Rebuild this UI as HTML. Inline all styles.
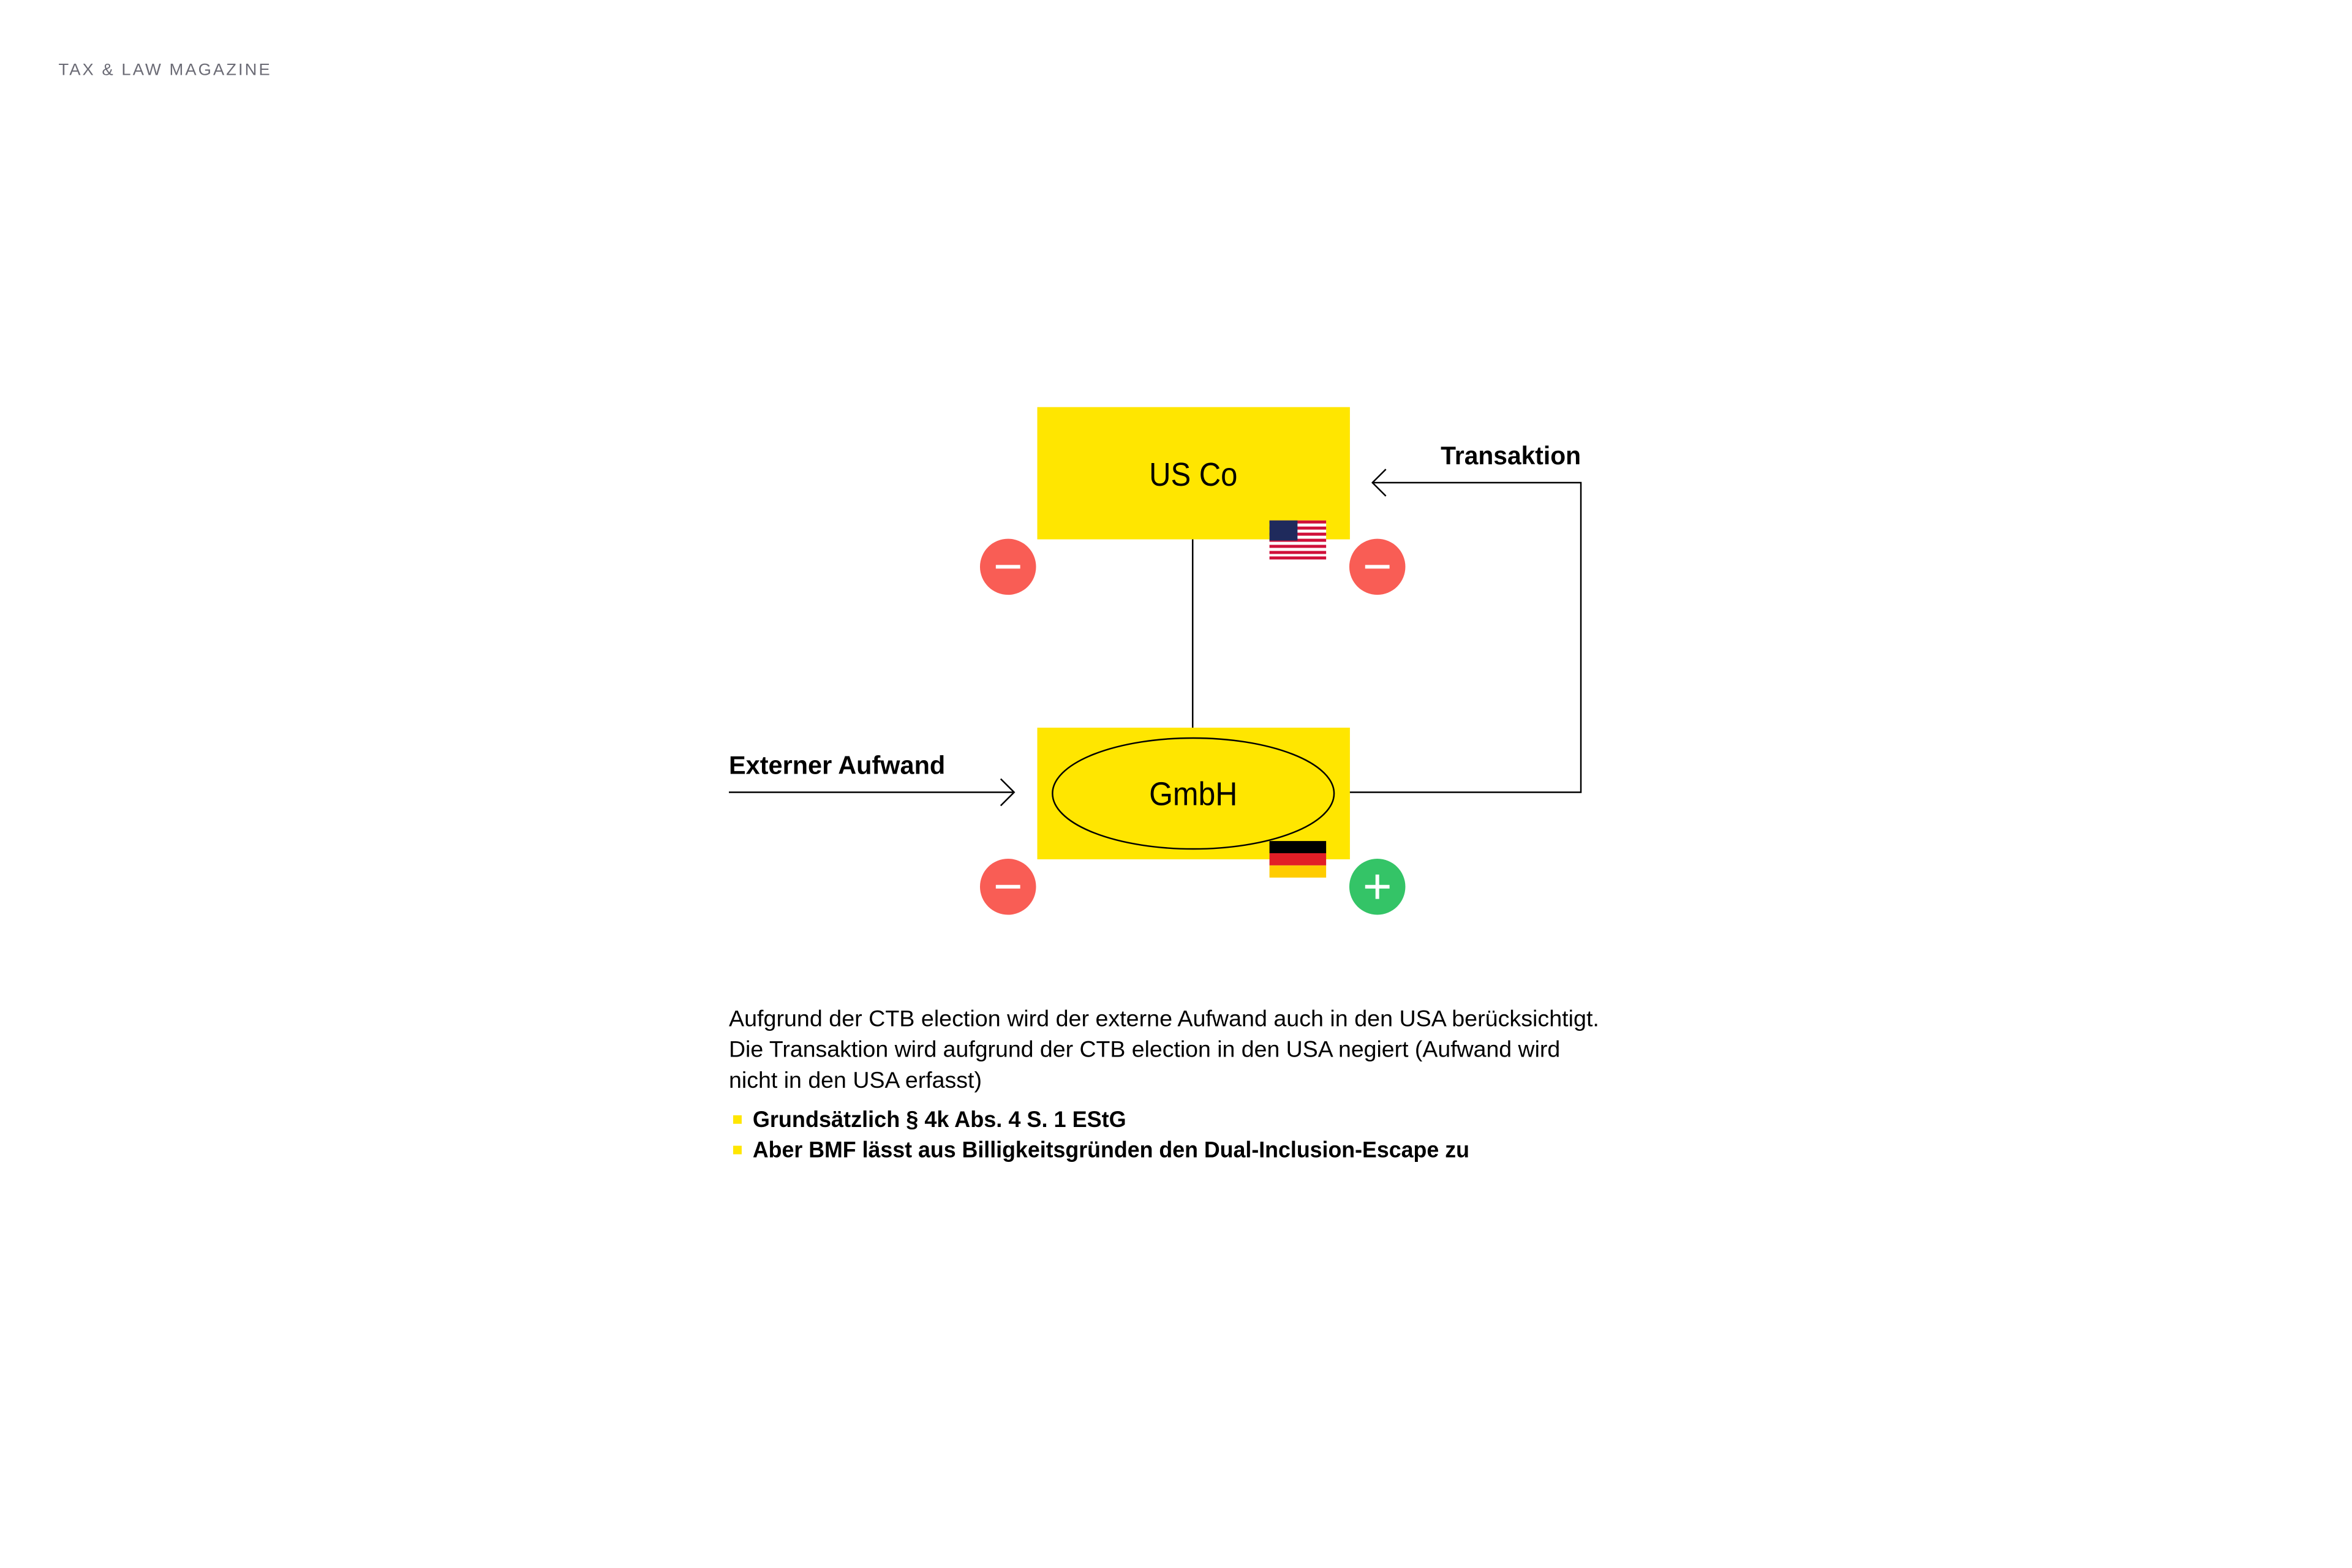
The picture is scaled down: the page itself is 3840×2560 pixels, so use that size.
<!DOCTYPE html>
<html><head><meta charset="utf-8"><style>
html,body{margin:0;padding:0;background:#fff;}
svg{display:block;}
text{font-family:"Liberation Sans",sans-serif;}
</style></head><body>
<svg width="3840" height="2560" viewBox="0 0 3840 2560" xmlns="http://www.w3.org/2000/svg">
<rect width="3840" height="2560" fill="#fff"/>
<g transform="scale(0.995)">
<text x="96" y="123" font-size="27" fill="#6b6b75" letter-spacing="3" textLength="350" lengthAdjust="spacingAndGlyphs">TAX &amp; LAW MAGAZINE</text>

<line x1="1957" y1="884" x2="1957" y2="1195" stroke="#000" stroke-width="2.5"/>
<polyline points="2213,1300 2594,1300 2594,792 2252,792" fill="none" stroke="#000" stroke-width="2.5"/>
<polyline points="2274,770 2252,792 2274,814" fill="none" stroke="#000" stroke-width="2.5"/>
<line x1="1196" y1="1300" x2="1664" y2="1300" stroke="#000" stroke-width="2.5"/>
<polyline points="1642,1278 1664,1300 1642,1322" fill="none" stroke="#000" stroke-width="2.5"/>

<rect x="1702" y="668" width="513" height="217" fill="#ffe600"/>
<text x="1958" y="797" font-size="54" text-anchor="middle" textLength="145" lengthAdjust="spacingAndGlyphs">US Co</text>
<rect x="1702" y="1194" width="513" height="216" fill="#ffe600"/>
<ellipse cx="1958" cy="1302" rx="231" ry="91" fill="none" stroke="#000" stroke-width="2.5"/>
<text x="1958" y="1321" font-size="54" text-anchor="middle" textLength="145" lengthAdjust="spacingAndGlyphs">GmbH</text>

<g>
<rect x="2083" y="854" width="93" height="64" fill="#fff"/>
<g fill="#d0103a">
<rect x="2083" y="854" width="93" height="5"/><rect x="2083" y="864" width="93" height="5"/><rect x="2083" y="874" width="93" height="5"/><rect x="2083" y="884" width="93" height="5"/><rect x="2083" y="894" width="93" height="5"/><rect x="2083" y="904" width="93" height="5"/><rect x="2083" y="913" width="93" height="5"/>
</g>
<rect x="2083" y="854" width="46" height="33" fill="#1f2a5c"/>
</g>
<rect x="2083" y="1380" width="93" height="20" fill="#000"/>
<rect x="2083" y="1400" width="93" height="20" fill="#e21e26"/>
<rect x="2083" y="1420" width="93" height="20" fill="#ffcc00"/>

<g>
<circle cx="1654" cy="930" r="46" fill="#f95d55"/><rect x="1634" y="927" width="40" height="6" fill="#fff"/>
<circle cx="2260" cy="930" r="46" fill="#f95d55"/><rect x="2240" y="927" width="40" height="6" fill="#fff"/>
<circle cx="1654" cy="1455" r="46" fill="#f95d55"/><rect x="1634" y="1452" width="40" height="6" fill="#fff"/>
<circle cx="2260" cy="1455" r="46" fill="#34c467"/><rect x="2240" y="1452" width="40" height="6" fill="#fff"/><rect x="2257" y="1435" width="6" height="40" fill="#fff"/>
</g>

<text x="2594" y="762" font-size="42" font-weight="bold" text-anchor="end" textLength="230" lengthAdjust="spacingAndGlyphs">Transaktion</text>
<text x="1196" y="1270" font-size="42" font-weight="bold" textLength="355" lengthAdjust="spacingAndGlyphs">Externer Aufwand</text>

<g font-size="37">
<text x="1196" y="1684" textLength="1428" lengthAdjust="spacingAndGlyphs">Aufgrund der CTB election wird der externe Aufwand auch in den USA berücksichtigt.</text>
<text x="1196" y="1734" textLength="1364" lengthAdjust="spacingAndGlyphs">Die Transaktion wird aufgrund der CTB election in den USA negiert (Aufwand wird</text>
<text x="1196" y="1785" textLength="415" lengthAdjust="spacingAndGlyphs">nicht in den USA erfasst)</text>
</g>
<rect x="1203" y="1830" width="14" height="14" fill="#ffe600"/>
<rect x="1203" y="1880" width="14" height="14" fill="#ffe600"/>
<g font-size="37" font-weight="bold">
<text x="1235" y="1849" textLength="613" lengthAdjust="spacingAndGlyphs">Grundsätzlich § 4k Abs. 4 S. 1 EStG</text>
<text x="1235" y="1899" textLength="1176" lengthAdjust="spacingAndGlyphs">Aber BMF lässt aus Billigkeitsgründen den Dual-Inclusion-Escape zu</text>
</g>
</g>
</svg>
</body></html>
